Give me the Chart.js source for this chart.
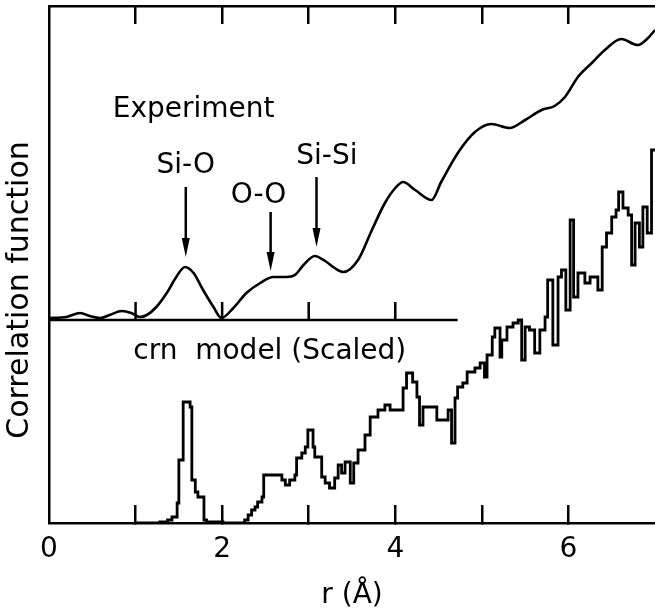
<!DOCTYPE html>
<html>
<head>
<meta charset="utf-8">
<title>Correlation function</title>
<script src="https://cdn.jsdelivr.net/npm/chart.js@4.4.1/dist/chart.umd.min.js"></script>
<style>
  html, body { margin: 0; padding: 0; background: #fff; }
  canvas { display: block; }
</style>
</head>
<body>
<canvas id="chart" width="655" height="616"></canvas>
<script>
// ================= DATA (r in Å, correlation in arbitrary units) =================
// Experiment curve
const expR = [0, 0.20, 0.36, 0.47, 0.59, 0.70, 0.84, 0.95, 1.05, 1.13, 1.24, 1.36, 1.47, 1.57, 1.67, 1.78, 1.90, 1.99,
  2.13, 2.28, 2.44, 2.59, 2.74, 2.84, 2.94, 3.07, 3.19, 3.30, 3.40, 3.57, 3.73, 3.88, 4.00, 4.09, 4.23, 4.42, 4.53,
  4.73, 4.92, 5.11, 5.32, 5.50, 5.69, 5.84, 5.96, 6.11, 6.27, 6.42, 6.61, 6.80, 6.92, 7.00];
const expG = [2.05, 2.06, 2.10, 2.07, 2.05, 2.08, 2.12, 2.10, 2.06, 2.08, 2.16, 2.30, 2.46, 2.56, 2.50, 2.33, 2.16, 2.05,
  2.15, 2.30, 2.40, 2.46, 2.46, 2.48, 2.58, 2.67, 2.62, 2.55, 2.51, 2.63, 2.93, 3.20, 3.35, 3.41, 3.33, 3.23, 3.41,
  3.71, 3.91, 3.99, 3.95, 4.03, 4.13, 4.17, 4.26, 4.46, 4.60, 4.73, 4.84, 4.78, 4.85, 4.93];

// crn model histogram: r where each step starts, and its level
const crnR = [1.00, 1.28, 1.37, 1.42, 1.48, 1.50, 1.55, 1.63, 1.65, 1.69, 1.72, 1.79, 1.82, 2.01,
  2.26, 2.30, 2.34, 2.38, 2.41, 2.46, 2.48, 2.69, 2.73, 2.78, 2.84, 2.86, 2.92, 2.96, 2.99, 3.05, 3.07,
  3.15, 3.19, 3.24, 3.30, 3.34, 3.38, 3.42, 3.48, 3.52, 3.57, 3.65, 3.71, 3.80, 3.88, 3.94, 4.09, 4.13,
  4.20, 4.25, 4.28, 4.32, 4.48, 4.61, 4.65, 4.69, 4.72, 4.78, 4.83, 4.92, 4.98, 5.03, 5.06, 5.12, 5.15,
  5.21, 5.23, 5.29, 5.36, 5.42, 5.46, 5.50, 5.55, 5.61, 5.67, 5.73, 5.76, 5.82, 5.88, 5.92, 5.97, 6.02,
  6.06, 6.11, 6.19, 6.25, 6.34, 6.39, 6.44, 6.50, 6.55, 6.58, 6.63, 6.69, 6.73, 6.77, 6.82, 6.86, 6.91,
  6.96, 7.00];
const crnG = [0.00, 0.01, 0.03, 0.06, 0.20, 0.63, 1.21, 1.16, 0.43, 0.31, 0.26, 0.03, 0.01, 0.00,
  0.03, 0.08, 0.13, 0.16, 0.21, 0.26, 0.48, 0.43, 0.38, 0.43, 0.48, 0.65, 0.70, 0.76, 0.93, 0.76, 0.66,
  0.46, 0.40, 0.35, 0.45, 0.58, 0.50, 0.61, 0.40, 0.60, 0.73, 0.88, 1.06, 1.13, 1.18, 1.13, 1.35, 1.50,
  1.41, 1.26, 0.98, 1.16, 1.03, 1.13, 0.80, 1.25, 1.36, 1.40, 1.51, 1.55, 1.60, 1.46, 1.68, 1.86, 1.95,
  1.66, 1.83, 1.96, 2.00, 2.03, 1.63, 1.96, 1.93, 1.70, 1.93, 2.06, 2.43, 1.78, 2.46, 2.53, 2.13, 3.03,
  2.26, 2.50, 2.40, 2.46, 2.33, 2.76, 2.90, 3.06, 3.13, 3.31, 3.15, 3.08, 2.58, 3.00, 2.76, 3.16, 2.90,
  3.73, 3.73];

// zero line of the experiment curve, with its tick marks
const baselineLevel = 2.03;
const baselineEnd = 4.72;
const baselineTicks = [1, 2, 3, 4];
const baselineTickHeight = 0.18;

// x axis
const xTickLabels = ["0", "", "2", "", "4", "", "6", ""];

// peak labels and arrows
const noteText = ["Experiment", "Si-O", "O-O", "Si-Si", "crn  model (Scaled)"];
const noteR = [1.67, 1.58, 2.42, 3.21, 2.55];
const noteV = [4.13, 3.57, 3.27, 3.66, 1.71];
const arrowR = [1.58, 2.56, 3.09];
const arrowFrom = [3.36, 3.11, 3.46];
const arrowTo = [2.66, 2.52, 2.76];

// ================= BUILD =================
const FONT = "'DejaVu Sans', sans-serif";
const toPoints = (xs, ys) => xs.map((r, i) => ({ x: r, y: ys[i] }));

const baselinePoints = [{ x: 0, y: baselineLevel }];
baselineTicks.forEach(r => {
  baselinePoints.push({ x: r, y: baselineLevel });
  baselinePoints.push({ x: r, y: baselineLevel + baselineTickHeight });
  baselinePoints.push({ x: r, y: baselineLevel });
});
baselinePoints.push({ x: baselineEnd, y: baselineLevel });

// tick marks only inside the frame (not on the corners)
const tickColor = c => (c.tick && (c.tick.value === 0 || c.tick.value === 7)) ? "rgba(0,0,0,0)" : "#000";

// labels, arrows and the rotated y title
const figureText = {
  id: "figureText",
  afterDatasetsDraw(chart) {
    const { ctx, chartArea } = chart;
    const x = chart.scales.x;
    const y = chart.scales.y;
    ctx.save();
    ctx.fillStyle = "#000";
    ctx.strokeStyle = "#000";
    ctx.font = "28px " + FONT;
    ctx.textAlign = "center";
    ctx.textBaseline = "middle";
    noteText.forEach((t, i) => {
      ctx.fillText(t, x.getPixelForValue(noteR[i]), y.getPixelForValue(noteV[i]));
    });

    // arrows
    ctx.lineWidth = 2.5;
    arrowR.forEach((r, i) => {
      const px = x.getPixelForValue(r);
      const y1 = y.getPixelForValue(arrowFrom[i]);
      const y2 = y.getPixelForValue(arrowTo[i]);
      ctx.beginPath();
      ctx.moveTo(px, y1);
      ctx.lineTo(px, y2 - 14);
      ctx.stroke();
      ctx.beginPath();
      ctx.moveTo(px - 4, y2 - 19);
      ctx.lineTo(px + 4, y2 - 19);
      ctx.lineTo(px, y2);
      ctx.closePath();
      ctx.fill();
    });

    // y axis title
    ctx.font = "30px " + FONT;
    ctx.translate(chartArea.left - 29, y.getPixelForValue(2.33));
    ctx.rotate(-Math.PI / 2);
    ctx.fillText("Correlation function", 0, 0);
    ctx.restore();
  }
};

const ctx = document.getElementById("chart").getContext("2d");

new Chart(ctx, {
  type: "line",
  data: {
    datasets: [
      {
        label: "Experiment",
        data: toPoints(expR, expG),
        borderColor: "#000",
        borderWidth: 2.6,
        pointRadius: 0,
        cubicInterpolationMode: "monotone",
        fill: false
      },
      {
        label: "crn model (Scaled)",
        data: toPoints(crnR, crnG),
        borderColor: "#000",
        borderWidth: 2.8,
        pointRadius: 0,
        stepped: "before",
        fill: false
      },
      {
        label: "baseline",
        data: baselinePoints,
        borderColor: "#000",
        borderWidth: 2.5,
        pointRadius: 0,
        tension: 0,
        fill: false
      }
    ]
  },
  options: {
    responsive: false,
    animation: false,
    layout: { padding: 0 },
    plugins: {
      legend: { display: false },
      tooltip: { enabled: false }
    },
    scales: {
      x: {
        type: "linear",
        position: "bottom",
        min: 0,
        max: 7,
        afterFit: s => {
          s.height = 93;
          // the label padding must not push the plot away from the right edge
          s.paddingLeft = 0;
          s.paddingRight = 0;
        },
        ticks: {
          stepSize: 1,
          color: "#000",
          padding: 28,
          maxRotation: 0,
          autoSkip: false,
          font: { family: FONT, size: 28 },
          callback: (v, i) => xTickLabels[i]
        },
        grid: { drawOnChartArea: false, tickLength: -18, color: tickColor, lineWidth: 2.5 },
        border: { display: true, color: "#000", width: 2.5 },
        title: {
          display: true,
          text: "r (Å)",
          color: "#000",
          font: { family: FONT, size: 28 },
          padding: { top: 0, bottom: 3 }
        }
      },
      xTop: {
        type: "linear",
        position: "top",
        min: 0,
        max: 7,
        afterFit: s => { s.height = 6; s.paddingLeft = 0; s.paddingRight = 0; },
        ticks: { display: false, stepSize: 1 },
        grid: { drawOnChartArea: false, tickLength: -18, color: tickColor, lineWidth: 2.5 },
        border: { display: true, color: "#000", width: 2.5 }
      },
      y: {
        type: "linear",
        min: 0,
        max: 5.17,
        afterFit: s => { s.width = 49; },
        ticks: { display: false },
        grid: { display: false },
        border: { display: true, color: "#000", width: 2.5 }
      }
    }
  },
  plugins: [figureText]
});
</script>
</body>
</html>
